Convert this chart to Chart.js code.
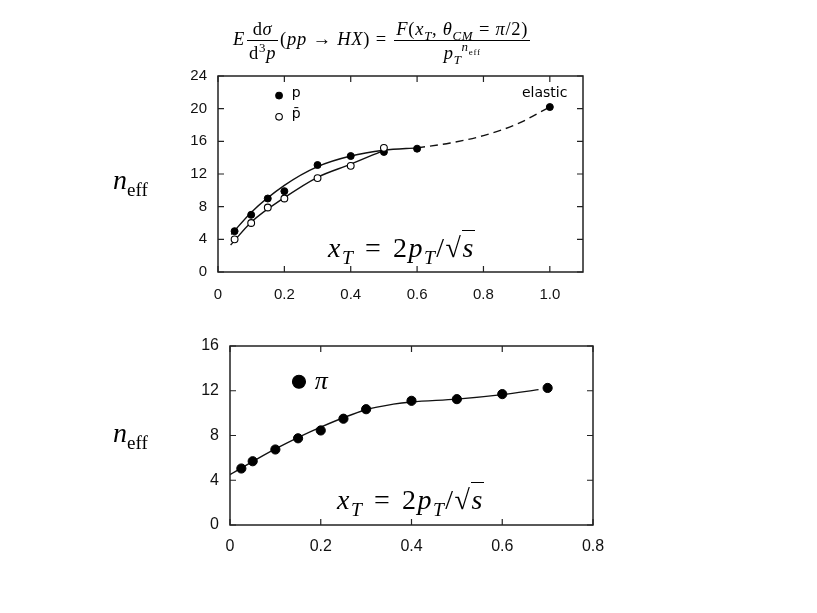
<!DOCTYPE html>
<html>
<head>
<meta charset="utf-8">
<script src="https://cdn.jsdelivr.net/npm/chart.js@4.4.1/dist/chart.umd.min.js"></script>
<style>
  body { margin:0; background:#fff; width:817px; height:613px; position:relative; overflow:hidden; }
  canvas { position:absolute; left:0; }
  .math { position:absolute; font-family:"Liberation Serif", serif; color:#000; white-space:nowrap; line-height:1; }
  .frac { display:inline-flex; flex-direction:column; vertical-align:middle; text-align:center; margin:0 2px; }
  .frac > span { display:block; padding:1px 2px; }
  .frac > span + span { border-top:1px solid #000; padding-top:3px; }
  sub, sup { font-size:70%; line-height:0; }
  .op { margin:0 0.3em; }
  .rt { border-top:1.3px solid #000; padding-top:1px; }
  .xt { font-size:28px; letter-spacing:1.5px; }
  .xt .op { margin:0 0.38em; }
</style>
</head>
<body>
<canvas id="topChart" width="817" height="300" style="top:0"></canvas>
<canvas id="botChart" width="817" height="233" style="top:320px"></canvas>

<div class="math" style="left:233px; top:19px; font-size:18.5px; letter-spacing:0.7px;">
  <i>E</i><span class="frac"><span>d<i>σ</i></span><span>d<sup>3</sup><i>p</i></span></span>(<i>pp</i><span class="op">→</span><i>HX</i>)<span class="op">=</span><span class="frac"><span><i>F</i>(<i>x</i><sub><i>T</i></sub>, <i>θ</i><sub><i>CM</i></sub><span class="op">=</span><i>π</i>/2)</span><span><i>p</i><sub><i>T</i></sub><sup><i>n</i><sub>eff</sub></sup></span></span>
</div>
<div class="math" style="left:113px; top:166px; font-size:28px;"><i>n</i><sub style="font-size:68%">eff</sub></div>
<div class="math" style="left:113px; top:419px; font-size:28px;"><i>n</i><sub style="font-size:68%">eff</sub></div>
<div class="math xt" style="left:328px; top:234px;"><i>x</i><sub><i>T</i></sub><span class="op">=</span>2<i>p</i><sub><i>T</i></sub>/√<span class="rt"><i>s</i></span></div>
<div class="math xt" style="left:337px; top:486px;"><i>x</i><sub><i>T</i></sub><span class="op">=</span>2<i>p</i><sub><i>T</i></sub>/√<span class="rt"><i>s</i></span></div>

<script>
// top panel: protons / antiprotons
const pX = [0.05, 0.1, 0.15, 0.2, 0.3, 0.4, 0.5, 0.6, 1.0];
const pY = [5.0, 7.0, 9.0, 9.9, 13.1, 14.2, 14.7, 15.1, 20.2];
const pbarX = [0.05, 0.1, 0.15, 0.2, 0.3, 0.4, 0.5];
const pbarY = [4.0, 6.0, 7.9, 9.0, 11.5, 13.0, 15.2];
// hand-drawn curves
const pFitX = [0.04, 0.1, 0.2, 0.3, 0.4, 0.5, 0.6];
const pFitY = [4.6, 7.3, 10.6, 12.9, 14.2, 14.9, 15.2];
const pbarFitX = [0.038, 0.1, 0.2, 0.3, 0.4, 0.5];
const pbarFitY = [3.3, 6.1, 9.1, 11.6, 13.2, 14.9];
const dashX = [0.6, 0.7, 0.8, 0.9, 1.0];
const dashY = [15.2, 15.8, 16.7, 18.1, 20.2];

const topXTicks = [0, 0.2, 0.4, 0.6, 0.8, 1.0];
const topXLabels = ["0", "0.2", "0.4", "0.6", "0.8", "1.0"];
const topYTicks = [0, 4, 8, 12, 16, 20, 24];

// bottom panel: pions
const piX = [0.025, 0.05, 0.1, 0.15, 0.2, 0.25, 0.3, 0.4, 0.5, 0.6, 0.7];
const piY = [5.05, 5.7, 6.75, 7.75, 8.45, 9.5, 10.35, 11.1, 11.25, 11.7, 12.25];
const piFitX = [0, 0.1, 0.2, 0.3, 0.36, 0.4, 0.5, 0.6, 0.68];
const piFitY = [4.5, 6.8, 8.75, 10.3, 10.8, 11.0, 11.25, 11.65, 12.1];

const botXTicks = [0, 0.2, 0.4, 0.6, 0.8];
const botXLabels = ["0", "0.2", "0.4", "0.6", "0.8"];
const botYTicks = [0, 4, 8, 12, 16];

const zip = (xs, ys) => xs.map((x, i) => ({ x, y: ys[i] }));
const ink = '#111';

// frame with inward ticks, plus the little in-plot legend and labels
const deco = {
  id: 'deco',
  afterDatasetsDraw(chart, args, opts) {
    const { ctx, chartArea: a, scales: { x, y } } = chart;
    ctx.save();
    ctx.strokeStyle = '#222';
    ctx.lineWidth = 1.5;
    ctx.strokeRect(a.left, a.top, a.right - a.left, a.bottom - a.top);
    ctx.lineWidth = 1.2;
    ctx.beginPath();
    x.ticks.forEach(t => {
      const px = x.getPixelForValue(t.value);
      ctx.moveTo(px, a.bottom); ctx.lineTo(px, a.bottom - 6);
      ctx.moveTo(px, a.top); ctx.lineTo(px, a.top + 6);
    });
    y.ticks.forEach(t => {
      const py = y.getPixelForValue(t.value);
      ctx.moveTo(a.left, py); ctx.lineTo(a.left + 6, py);
      ctx.moveTo(a.right, py); ctx.lineTo(a.right - 6, py);
    });
    ctx.stroke();

    (opts.marks || []).forEach(m => {
      const px = x.getPixelForValue(m.x), py = y.getPixelForValue(m.y);
      ctx.beginPath();
      ctx.arc(px, py, m.r, 0, Math.PI * 2);
      ctx.fillStyle = m.open ? '#fff' : '#000';
      ctx.fill();
      ctx.strokeStyle = '#000';
      ctx.lineWidth = 1.1;
      ctx.stroke();
    });
    (opts.texts || []).forEach(t => {
      ctx.font = t.font;
      ctx.fillStyle = '#000';
      ctx.textBaseline = 'middle';
      ctx.fillText(t.text, x.getPixelForValue(t.x), y.getPixelForValue(t.y));
    });
    ctx.restore();
  }
};

function axes(xTicks, xLabels, xMax, yTicks, yMax, fontSize, pad) {
  const font = { family: '"Liberation Sans", Arial, sans-serif', size: fontSize };
  return {
    x: {
      type: 'linear', min: 0, max: xMax,
      afterBuildTicks: s => { s.ticks = xTicks.map(v => ({ value: v })); },
      afterFit: s => { s.height = 28; },
      ticks: { callback: (v, i) => xLabels[i], autoSkip: false, maxRotation: 0, padding: pad, font, color: ink },
      grid: { display: false, drawTicks: false },
      border: { display: false }
    },
    y: {
      type: 'linear', min: 0, max: yMax,
      afterBuildTicks: s => { s.ticks = yTicks.map(v => ({ value: v })); },
      afterFit: s => { s.width = 40; },
      ticks: { autoSkip: false, padding: 11, font, color: ink },
      grid: { display: false, drawTicks: false },
      border: { display: false }
    }
  };
}

const curve = { showLine: true, pointRadius: 0, borderColor: ink, borderWidth: 1.4, cubicInterpolationMode: 'monotone', fill: false };

new Chart(document.getElementById('topChart'), {
  type: 'scatter',
  data: {
    datasets: [
      { data: zip(pbarX, pbarY), pointRadius: 3.4, pointBackgroundColor: '#fff', pointBorderColor: '#000', pointBorderWidth: 1.1 },
      { data: zip(pX, pY), pointRadius: 3.5, pointBackgroundColor: '#000', pointBorderColor: '#000' },
      { ...curve, data: zip(pFitX, pFitY) },
      { ...curve, data: zip(pbarFitX, pbarFitY) },
      { ...curve, data: zip(dashX, dashY), borderDash: [8, 5] }
    ]
  },
  options: {
    responsive: false, animation: false,
    layout: { padding: { left: 178, right: 234, top: 76, bottom: 0 } },
    plugins: {
      legend: { display: false }, tooltip: { enabled: false },
      deco: {
        marks: [{ x: 0.184, y: 21.6, r: 3.3 }, { x: 0.184, y: 19.0, r: 3.3, open: true }],
        texts: [
          { text: 'p', x: 0.222, y: 21.9, font: '14px "DejaVu Sans"' },
          { text: 'p\u0304', x: 0.222, y: 19.3, font: '14px "DejaVu Sans"' },
          { text: 'elastic', x: 0.916, y: 21.9, font: '14px "DejaVu Sans"' }
        ]
      }
    },
    scales: axes(topXTicks, topXLabels, 1.1, topYTicks, 24, 15, 14)
  },
  plugins: [deco]
});

new Chart(document.getElementById('botChart'), {
  type: 'scatter',
  data: {
    datasets: [
      { data: zip(piX, piY), pointRadius: 4.6, pointBackgroundColor: '#000', pointBorderColor: '#000' },
      { ...curve, data: zip(piFitX, piFitY) }
    ]
  },
  options: {
    responsive: false, animation: false,
    layout: { padding: { left: 190, right: 224, top: 26, bottom: 0 } },
    plugins: {
      legend: { display: false }, tooltip: { enabled: false },
      deco: {
        marks: [{ x: 0.152, y: 12.8, r: 6.5 }],
        texts: [{ text: 'π', x: 0.187, y: 12.8, font: 'italic 26px "Liberation Serif"' }]
      }
    },
    scales: axes(botXTicks, botXLabels, 0.8, botYTicks, 16, 16, 12)
  },
  plugins: [deco]
});
</script>
</body>
</html>
